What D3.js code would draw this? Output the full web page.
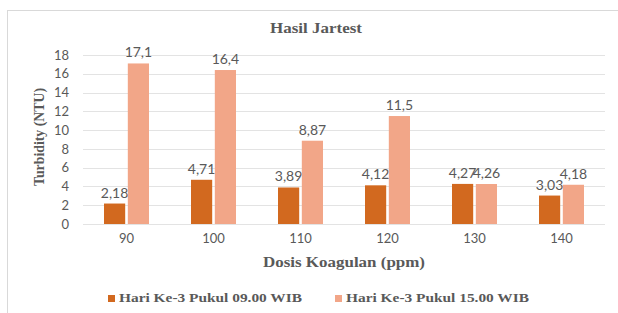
<!DOCTYPE html>
<html><head><meta charset="utf-8">
<script src="https://cdn.jsdelivr.net/npm/d3@7"></script>
<style>body{margin:0;background:#fff}svg{display:block}</style>
</head><body><svg id="c" width="618" height="313"></svg>
<script>
const categories = ["90","100","110","120","130","140"];
const series1 = [2.18, 4.71, 3.89, 4.12, 4.27, 3.03];
const series2 = [17.1, 16.4, 8.87, 11.5, 4.26, 4.18];
const seriesNames = ["Hari Ke-3 Pukul 09.00 WIB", "Hari Ke-3 Pukul 15.00 WIB"];
const yTicks = [0,2,4,6,8,10,12,14,16,18];
const colors = ["#D2691F", "#F2A688"];

const svg = d3.select("#c");
const fmt = v => String(v).replace(".", ",");
const m = {l:83, r:605, t:55, b:224};
const serif = "'Liberation Serif', 'Times New Roman', serif";
const sans = "Lato, 'Open Sans', sans-serif";

svg.append("rect").attr("x",7.5).attr("y",10.5).attr("width",640).attr("height",330)
  .attr("fill","#fff").attr("stroke","#d9d9d9");

const x = d3.scaleBand().domain(categories).range([m.l, m.r]);
const y = d3.scaleLinear().domain([0,18]).range([m.b, m.t]);
const xs = d3.scaleBand().domain([0,1]).range([0, 45]).paddingInner(0.11);

svg.append("g").selectAll("line").data(yTicks).join("line")
  .attr("x1",m.l).attr("x2",m.r).attr("y1",d=>Math.round(y(d))+0.5).attr("y2",d=>Math.round(y(d))+0.5)
  .attr("stroke","#e3e3e3").attr("stroke-width",1);

const yAxis = d3.axisLeft(y).tickValues(yTicks).tickSize(0).tickPadding(0);
const ga = svg.append("g").attr("transform",`translate(${m.l-14},0)`).call(yAxis);
ga.select(".domain").remove();
ga.selectAll("text").attr("font-family",sans).attr("font-size",13).attr("fill","#595959");

const xAxis = d3.axisBottom(x).tickSize(0).tickPadding(0);
const gx = svg.append("g").attr("transform",`translate(0,${m.b+10})`).call(xAxis);
gx.select(".domain").remove();
gx.selectAll("text").attr("font-family",sans).attr("font-size",13).attr("fill","#595959");

const data = [series1, series2];
data.forEach((s, si) => {
  const g = svg.append("g");
  g.selectAll("rect").data(s).join("rect")
    .attr("x",(d,i)=>x(categories[i]) + x.bandwidth()/2 - 22.5 + xs(si))
    .attr("width", xs.bandwidth())
    .attr("y", d=>y(d)).attr("height", d=>y(0)-y(d))
    .attr("fill", colors[si]);
  g.selectAll("text").data(s).join("text")
    .attr("x",(d,i)=>x(categories[i]) + x.bandwidth()/2 - 22.5 + xs(si) + xs.bandwidth()/2)
    .attr("y", d=>y(d)-6)
    .attr("text-anchor","middle")
    .attr("font-family",sans).attr("font-size",14).attr("fill","#595959")
    .text(d=>fmt(d));
});

svg.append("text").attr("x",316).attr("y",33).attr("text-anchor","middle")
  .attr("font-family",serif).attr("font-weight","bold").attr("font-size",14).attr("fill","#595959")
  .attr("textLength",92).attr("lengthAdjust","spacingAndGlyphs")
  .text("Hasil Jartest");

svg.append("text").attr("transform",`translate(44,137) rotate(-90)`).attr("text-anchor","middle")
  .attr("font-family",serif).attr("font-weight","bold").attr("font-size",14).attr("fill","#595959")
  .attr("textLength",98).attr("lengthAdjust","spacingAndGlyphs")
  .text("Turbidity (NTU)");

svg.append("text").attr("x",344).attr("y",267).attr("text-anchor","middle")
  .attr("font-family",serif).attr("font-weight","bold").attr("font-size",14).attr("fill","#595959")
  .attr("textLength",162).attr("lengthAdjust","spacingAndGlyphs")
  .text("Dosis Koagulan (ppm)");

const legX = [108, 335];
seriesNames.forEach((n,i)=>{
  svg.append("rect").attr("x",legX[i]).attr("y",295).attr("width",7).attr("height",7).attr("fill",colors[i]);
  svg.append("text").attr("x",legX[i]+11).attr("y",302)
    .attr("font-family",serif).attr("font-weight","bold").attr("font-size",13).attr("fill","#595959")
    .attr("textLength",183).attr("lengthAdjust","spacingAndGlyphs")
    .text(n);
});
</script></body></html>
